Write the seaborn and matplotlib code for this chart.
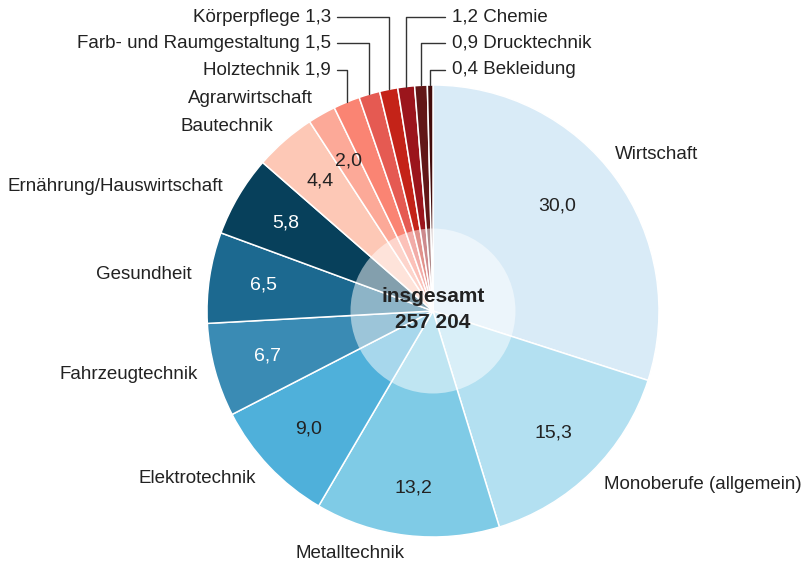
import numpy as np
import matplotlib
matplotlib.use("Agg")
import matplotlib.pyplot as plt
import seaborn as sns

# Daten: Anteile in Prozent (insgesamt 257 204)
berufe = ['Wirtschaft', 'Monoberufe (allgemein)', 'Metalltechnik', 'Elektrotechnik',
          'Fahrzeugtechnik', 'Gesundheit', 'Ernährung/Hauswirtschaft', 'Bautechnik',
          'Agrarwirtschaft', 'Holztechnik', 'Farb- und Raumgestaltung', 'Körperpflege',
          'Chemie', 'Drucktechnik', 'Bekleidung']
anteile = [30.0, 15.3, 13.2, 9.0, 6.7, 6.5, 5.8, 4.4, 2.0, 1.9, 1.5, 1.3, 1.2, 0.9, 0.4]
farben = ['#d9ebf7', '#b3e0f1', '#7fcbe6', '#4fb0da', '#3a8bb4', '#1c6990', '#07405b',
          '#fdc8b6', '#fca998', '#fa8473', '#e55a52', '#c42318', '#9b151c', '#621717',
          '#420c0c']
gesamt = '257 204'

sns.set_style('white')
plt.rcParams['font.family'] = ['Liberation Sans', 'DejaVu Sans']

W, H = 806, 572
fig = plt.figure(figsize=(W / 100, H / 100), dpi=100)
ax = fig.add_axes([0, 0, 1, 1])

cx, cy, r = 433, 261, 226
txt = '#222222'
pal = sns.color_palette(farben)

wedges, _ = ax.pie(anteile, colors=pal, startangle=90, counterclock=False,
                   center=(cx, cy), radius=r, frame=True,
                   wedgeprops=dict(edgecolor='white', linewidth=1.1))
ax.set_xlim(0, W)
ax.set_ylim(0, H)
ax.set_aspect('equal')
ax.axis('off')

# halbtransparenter Innenkreis
ax.add_patch(plt.Circle((cx, cy), r * 0.365, color='white', alpha=0.5, lw=0, zorder=5))

def fmt(v):
    return f'{v:.1f}'.replace('.', ',')

klein_links = ['Holztechnik', 'Farb- und Raumgestaltung', 'Körperpflege']
klein_rechts = ['Bekleidung', 'Drucktechnik', 'Chemie']
zeilen_y = [H - 70, H - 43, H - 17]
# kleine Korrekturen der Beschriftung (Pixel)
versatz_aussen = {'Wirtschaft': (-15, 13)}
versatz_innen = {'Wirtschaft': (-15, 4), 'Metalltechnik': (0, -6)}
fs = 13.5

for w, name, v in zip(wedges, berufe, anteile):
    ang = np.deg2rad((w.theta1 + w.theta2) / 2)
    ca, sa = np.cos(ang), np.sin(ang)
    if name in klein_links or name in klein_rechts:
        x0, y0 = cx + r * ca, cy + r * sa
        if name in klein_links:
            yl = zeilen_y[klein_links.index(name)]
            ax.plot([x0, x0, 337], [y0, yl, yl], color='#333333', lw=1, zorder=6)
            ax.text(331, yl, f'{name} {fmt(v)}', ha='right', va='center',
                    fontsize=fs, color=txt)
        else:
            yl = zeilen_y[klein_rechts.index(name)]
            ax.plot([x0, x0, 445], [y0, yl, yl], color='#333333', lw=1, zorder=6)
            ax.text(452, yl, f'{fmt(v)} {name}', ha='left', va='center',
                    fontsize=fs, color=txt)
        continue
    # Beschriftung außen
    ro = r * 1.08
    dx, dy = versatz_aussen.get(name, (0, 0))
    ax.text(cx + ro * ca + dx, cy + ro * sa + dy, name, ha='left' if ca > 0 else 'right',
            va='center', fontsize=fs, color=txt)
    # Wert innen
    ri = r * 0.76
    dx, dy = versatz_innen.get(name, (0, 0))
    col = 'white' if name in ('Fahrzeugtechnik', 'Gesundheit', 'Ernährung/Hauswirtschaft') else txt
    ax.text(cx + ri * ca + dx, cy + ri * sa + dy, fmt(v), ha='center', va='center',
            fontsize=14, color=col, zorder=6)

ax.text(cx, cy + 14, 'insgesamt', ha='center', va='center', fontsize=15,
        fontweight='bold', color=txt, zorder=7)
ax.text(cx, cy - 11, gesamt, ha='center', va='center', fontsize=15,
        fontweight='bold', color=txt, zorder=7)

fig.savefig('out.png', dpi=100)
